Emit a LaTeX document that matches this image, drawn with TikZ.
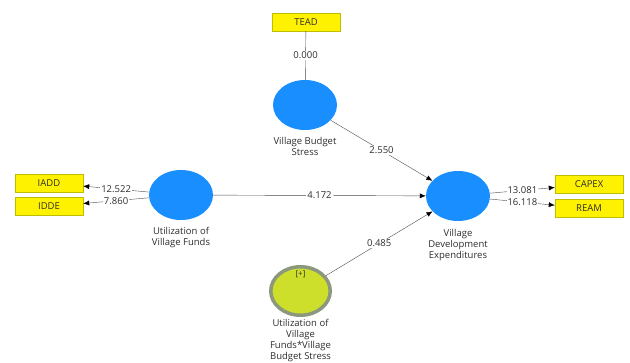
\documentclass[tikz,border=0pt]{standalone}
\usepackage{fontspec}
\setmainfont{Open Sans}
\usetikzlibrary{shapes.geometric,positioning,arrows.meta}

\definecolor{lvblue}{RGB}{24,142,255}
\definecolor{modfill}{RGB}{205,223,42}
\definecolor{modline}{RGB}{140,152,126}
\definecolor{boxline}{RGB}{190,190,0}
\definecolor{txt}{RGB}{45,45,45}

\begin{document}
\begin{tikzpicture}[x=1pt,y=-1pt,
  latent/.style={ellipse,fill=lvblue,minimum width=64pt,minimum height=50pt,inner sep=0pt},
  indbox/.style={rectangle,draw=boxline,fill=yellow,minimum width=68pt,minimum height=18pt,inner sep=0pt,text=txt,font=\fontsize{9.5}{10}\selectfont},
  lbl/.style={align=center,text=txt,inner sep=0pt,font=\fontsize{9.5}{11}\selectfont},
  coef/.style={fill=white,inner sep=1pt,text=txt,font=\fontsize{9.5}{10}\selectfont},
  pathline/.style={draw=black!70,-{Latex[length=6pt,width=5pt,color=black]}}]
\useasboundingbox (0,0) rectangle (630,363);

% latent variables
\node[latent] (vbs) at (305,105) {};
\node[latent] (uvf) at (181,195) {};
\node[latent] (vde) at (458,196) {};
\node[ellipse,fill=modfill,draw=modline,line width=3.5pt,minimum width=59.5pt,minimum height=48.5pt,inner sep=0pt] (mod) at (300.5,291) {};
\node[lbl,font=\fontsize{8}{9}\selectfont] (plus) at (300.5,274) {[+]};

\node[lbl,below=7pt of vbs] (vbslbl) {Village Budget\\Stress};
\node[lbl,below=7pt of uvf] (uvflbl) {Utilization of\\Village Funds};
\node[lbl,below=8pt of vde] (vdelbl) {Village\\Development\\Expenditures};
\node[lbl,below=2pt of mod] (modlbl) {Utilization of\\Village\\Funds*Village\\Budget Stress};

% indicators
\node[indbox] (tead) at (306,22) {TEAD};
\node[indbox] (iadd) at (49,183) {IADD};
\node[indbox] (idde) at (49,206.5) {IDDE};
\node[indbox] (capex) at (589,184.5) {CAPEX};
\node[indbox] (ream) at (589,208.5) {REAM};

% paths
\draw[draw=black!70] (tead) -- node[coef] {0.000} (vbs);
\draw[pathline] (vbs) -- node[coef] {2.550} (vde);
\draw[pathline] (uvf) -- node[coef] {4.172} (vde);
\draw[pathline] (mod) -- node[coef] {0.485} (vde);
\draw[pathline] (uvf) -- node[coef] {12.522} (iadd);
\draw[pathline] (uvf) -- node[coef] {7.860} (idde);
\draw[pathline] (vde) -- node[coef] {13.081} (capex);
\draw[pathline] (vde) -- node[coef] {16.118} (ream);
\end{tikzpicture}
\end{document}
